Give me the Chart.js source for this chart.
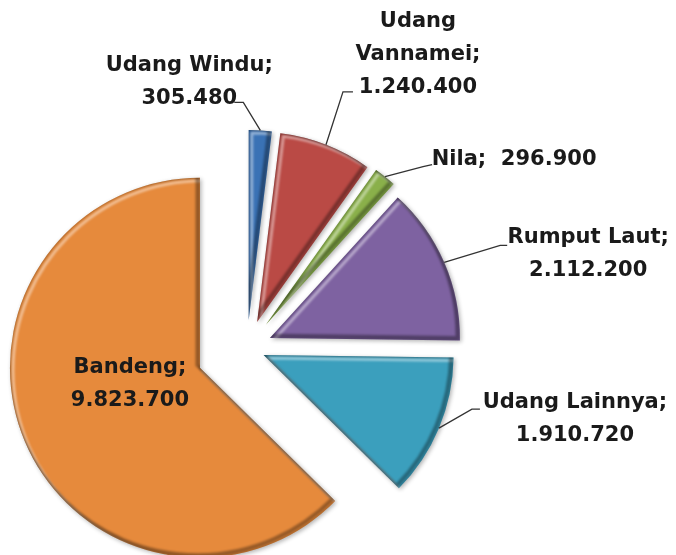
<!DOCTYPE html>
<html lang="id">
<head>
<meta charset="UTF-8">
<title>Produksi</title>
<script src="https://cdn.jsdelivr.net/npm/chart.js"></script>
<style>
  html, body { margin: 0; padding: 0; background: #fff; overflow: hidden; }
  #wrap { width: 676px; height: 555px; }
</style>
</head>
<body>
<div id="wrap"><canvas id="pie" width="676" height="555"></canvas></div>
<script>
// data
const kategori = ['Udang Windu', 'Udang Vannamei', 'Nila', 'Rumput Laut', 'Udang Lainnya', 'Bandeng'];
const produksi = [305480, 1240400, 296900, 2112200, 1910720, 9823700];
const warna = ['#3a72b5', '#ba4a45', '#8ab04a', '#7e62a1', '#3b9fbd', '#e68a3c'];

// how far each slice is pulled away from the centre (px)
const tarik = [28, 28, 30, 25, 18, 51];

// label layout, relative to the outer edge of the slice (or its tip when inside)
// mode: 'dua' = name; / value   'tiga' = each word / value   'satu' = name; value
const posLabel = [
  { mode: 'dua',  dx: -71, dy: -65, bend: [-17, -28], end: [-26, -28] },
  { mode: 'tiga', dx: 92,  dy: -123, bend: [17, -53], end: [27, -53] },
  { mode: 'satu', dx: 129, dy: -17, bend: [38, -10], end: [47, -12] },
  { mode: 'dua',  dx: 144, dy: -25, bend: [56, -17], end: [63, -17] },
  { mode: 'dua',  dx: 136, dy: -26, bend: [33, -19], end: [41, -19] },
  { mode: 'dua',  dx: -70, dy: 0, inside: true }
];

const tinggiBaris = 33;

function formatAngka(v) {
  return String(v).replace(/\B(?=(\d{3})+(?!\d))/g, '.');
}

function barisLabel(i) {
  const nama = kategori[i], nilai = formatAngka(produksi[i]);
  const m = posLabel[i].mode;
  if (m === 'satu') return [nama + ';  ' + nilai];
  if (m === 'tiga') {
    const kata = nama.split(' ');
    kata[kata.length - 1] += ';';
    return kata.concat([nilai]);
  }
  return [nama + ';', nilai];
}

function pathIrisan(ctx, arc) {
  ctx.beginPath();
  ctx.moveTo(arc.x, arc.y);
  ctx.arc(arc.x, arc.y, arc.outerRadius, arc.startAngle, arc.endAngle);
  ctx.closePath();
}

// soft bevel: light rim on upper-left edges, dark rim on lower-right
function bevel(ctx, arc) {
  ctx.save();
  pathIrisan(ctx, arc);
  ctx.clip();
  ctx.lineJoin = 'round';
  ctx.filter = 'blur(1px)';

  ctx.save();
  ctx.translate(3, 3);
  pathIrisan(ctx, arc);
  ctx.strokeStyle = 'rgba(255,255,255,0.45)';
  ctx.lineWidth = 3;
  ctx.stroke();
  ctx.restore();

  ctx.save();
  ctx.translate(-2.5, -2.5);
  pathIrisan(ctx, arc);
  ctx.strokeStyle = 'rgba(0,0,0,0.35)';
  ctx.lineWidth = 4;
  ctx.stroke();
  ctx.restore();

  pathIrisan(ctx, arc);
  ctx.strokeStyle = 'rgba(0,0,0,0.25)';
  ctx.lineWidth = 2;
  ctx.stroke();
  ctx.restore();
}

const pluginPecah = {
  id: 'pecah',
  beforeDatasetDraw(chart, args) {
    const ctx = chart.ctx;
    args.meta.data.forEach((arc, i) => {
      const tengah = (arc.startAngle + arc.endAngle) / 2;
      ctx.save();
      ctx.translate(Math.cos(tengah) * tarik[i], Math.sin(tengah) * tarik[i]);
      ctx.save();
      ctx.shadowColor = 'rgba(0,0,0,0.3)';
      ctx.shadowBlur = 4;
      ctx.shadowOffsetX = 1.5;
      ctx.shadowOffsetY = 1.5;
      arc.draw(ctx);
      ctx.restore();
      bevel(ctx, arc);
      ctx.restore();
    });
    return false;
  }
};

const pluginLabel = {
  id: 'labelIrisan',
  afterDatasetsDraw(chart) {
    const ctx = chart.ctx;
    const arcs = chart.getDatasetMeta(0).data;
    ctx.save();
    ctx.font = 'bold 21px "DejaVu Sans"';
    ctx.textAlign = 'center';
    ctx.textBaseline = 'middle';
    arcs.forEach((arc, i) => {
      const L = posLabel[i];
      const tengah = (arc.startAngle + arc.endAngle) / 2;
      const cx = arc.x + Math.cos(tengah) * tarik[i];
      const cy = arc.y + Math.sin(tengah) * tarik[i];
      let ax = cx, ay = cy;
      if (!L.inside) {
        ax = cx + Math.cos(tengah) * arc.outerRadius;
        ay = cy + Math.sin(tengah) * arc.outerRadius;
        ctx.beginPath();
        ctx.moveTo(ax, ay);
        ctx.lineTo(ax + L.bend[0], ay + L.bend[1]);
        ctx.lineTo(ax + L.end[0], ay + L.end[1]);
        ctx.strokeStyle = '#333';
        ctx.lineWidth = 1.3;
        ctx.stroke();
      }
      ctx.fillStyle = '#1a1a1a';
      barisLabel(i).forEach((t, k) => {
        ctx.fillText(t, ax + L.dx, ay + L.dy + k * tinggiBaris);
      });
    });
    ctx.restore();
  }
};

new Chart(document.getElementById('pie'), {
  type: 'pie',
  data: {
    labels: kategori,
    datasets: [{
      data: produksi,
      backgroundColor: warna,
      borderWidth: 0,
      radius: 190
    }]
  },
  options: {
    responsive: false,
    animation: false,
    radius: 190,
    layout: { padding: { left: 0, right: 182, top: 141, bottom: 0 } },
    plugins: {
      legend: { display: false },
      tooltip: { enabled: false }
    }
  },
  plugins: [pluginPecah, pluginLabel]
});
</script>
</body>
</html>
